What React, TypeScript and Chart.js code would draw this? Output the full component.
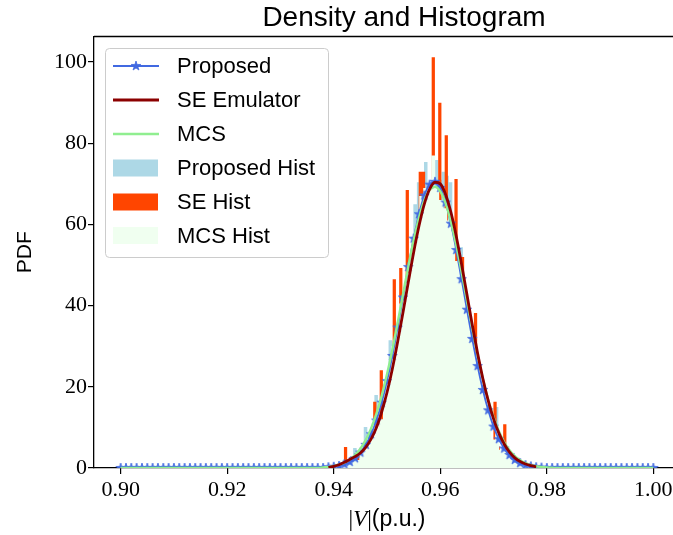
import { useEffect, useRef } from "react";
import { Chart, registerables } from "chart.js";

Chart.register(...registerables);

// Density curves sampled on a regular |V| grid (0.900 … 1.000, step 0.001)
const gridStart = 0.9;
const gridStep = 0.001;

const proposedPdf = [
  0, 0, 0, 0, 0, 0, 0, 0, 0, 0,
  0, 0, 0, 0, 0, 0, 0, 0, 0, 0,
  0, 0, 0, 0, 0, 0, 0, 0, 0, 0,
  0, 0, 0, 0, 0, 0, 0, 0, 0, 0.2,
  0.3, 0.5, 0.9, 1.5, 2.4, 3.8, 5.7, 8.3, 11.7, 16.1,
  21.4, 27.6, 34.6, 42.0, 49.5, 56.5, 62.5, 67.1, 69.8, 70.5,
  69.0, 65.4, 60.2, 53.7, 46.5, 39.0, 31.8, 25.1, 19.2, 14.2,
  10.2, 7.1, 4.8, 3.2, 2.0, 1.2, 0.7, 0.4, 0.2, 0.1,
  0, 0, 0, 0, 0, 0, 0, 0, 0, 0,
  0, 0, 0, 0, 0, 0, 0, 0, 0, 0,
  0,
];

const mcsPdf = [
  0, 0, 0, 0, 0, 0, 0, 0, 0, 0,
  0, 0, 0, 0, 0, 0, 0, 0, 0, 0,
  0, 0, 0, 0, 0, 0, 0, 0, 0, 0,
  0, 0, 0, 0, 0, 0, 0, 0, 0.16, 0.28,
  0.49, 0.81, 1.31, 2.07, 3.17, 4.74, 6.87, 9.69, 13.31, 17.77,
  23.07, 29.13, 35.77, 42.73, 49.65, 56.11, 61.66, 65.91, 68.52, 69.29,
  68.14, 65.18, 60.64, 54.87, 48.29, 41.33, 34.41, 27.86, 21.94, 16.8,
  12.52, 9.07, 6.39, 4.38, 2.92, 1.89, 1.19, 0.73, 0.44, 0.25,
  0.14, 0.07, 0, 0, 0, 0, 0, 0, 0, 0,
  0, 0, 0, 0, 0, 0, 0, 0, 0, 0,
  0,
];

// SE emulator density only spans its own sample range (0.939 … 0.978)
const seStart = 0.939;
const sePdf = [
  0.15, 0.4, 0.8, 1.4, 2.1, 2.8, 3.7, 5.1, 7.1, 9.9,
  13.8, 18.6, 24.4, 31.1, 38.3, 45.8, 53.1, 59.6, 65.0, 68.7,
  70.4, 70.0, 67.4, 63.0, 57.1, 50.2, 42.8, 35.3, 28.3, 22.0,
  16.6, 12.1, 8.6, 5.9, 3.9, 2.5, 1.6, 1.0, 0.6, 0.3,
];

// Histograms: first bin edge, bin width, bin heights (density)
const proposedHistStart = 0.94098;
const proposedHistWidth = 0.000665;
const proposedHist = [
  1.2, 2.0, 1.0, 1.4, 4.9, 1.8, 3.0, 10.1, 5.8, 7.4,
  18.0, 9.0, 11.0, 17.0, 31.5, 24.0, 27.0, 31.0, 35.0, 39.0,
  43.0, 65.0, 70.4, 58.0, 75.4, 58.0, 60.0, 75.9, 71.0, 73.0,
  72.0, 70.4, 46.0, 42.0, 54.4, 34.0, 30.0, 34.0, 22.0, 19.0,
  16.0, 13.0, 6.5, 6.5, 15.0, 4.0, 4.0, 3.0, 2.3, 1.7,
  1.2, 0.9, 0.6, 0.4,
];

const seHistStart = 0.940085;
const seHistWidth = 0.00061;
const seHist = [
  0.2, 0.3, 0.4, 5.2, 0.7, 1.0, 1.3, 3.4, 2.5, 3.4,
  4.3, 5.5, 16.3, 8.0, 24.1, 11.0, 13.0, 16.0, 46.5, 20.0,
  49.3, 26.0, 68.5, 32.0, 34.0, 36.0, 73.0, 73.0, 40.0, 41.0,
  101.2, 42.0, 90.0, 41.0, 82.0, 38.0, 36.0, 71.2, 32.0, 52.0,
  26.0, 24.0, 21.0, 38.2, 16.0, 14.0, 12.0, 10.0, 5.0, 16.3,
  5.3, 3.5, 10.8, 2.6, 2.0, 1.5, 1.2, 0.9, 0.6, 0.5,
  0.3,
];

const mcsHistStart = 0.9403;
const mcsHistWidth = 0.00075;
const mcsHist = [
  0.7, 1.0, 1.4, 2.0, 2.8, 2.0, 4.0, 6.7, 8.7, 11.1,
  10.0, 12.0, 21.3, 24.0, 30.0, 32.0, 40.5, 45.7, 48.0, 55.6,
  60.0, 67.0, 69.0, 68.4, 77.0, 69.0, 66.0, 64.0, 61.0, 58.3,
  51.0, 46.0, 43.6, 38.4, 31.0, 28.3, 23.8, 19.7, 16.0, 7.0,
  10.1, 4.5, 4.5, 4.5, 3.3, 2.4, 1.8, 1.2, 0.9, 0.6,
];

const xTicks = [0.9, 0.92, 0.94, 0.96, 0.98, 1.0];
const yTicks = [0, 20, 40, 60, 80, 100];

const SANS = '"Liberation Sans", Arial, sans-serif';
const SERIF = '"Liberation Serif", "Times New Roman", serif';

function curvePoints(start: number, step: number, values: number[]) {
  return values.map((v, i) => ({ x: start + i * step, y: v }));
}

// Outline of a histogram as step points: each bin holds its height until the next edge
function histPoints(start: number, width: number, heights: number[]) {
  const pts = heights.map((h, i) => ({ x: start + i * width, y: h }));
  pts.push({ x: start + heights.length * width, y: heights[heights.length - 1] });
  return pts;
}

function starMarker(color: string, r: number) {
  const size = Math.ceil(r * 2 + 2);
  const c = document.createElement("canvas");
  c.width = size;
  c.height = size;
  const g = c.getContext("2d")!;
  g.translate(size / 2, size / 2);
  g.beginPath();
  for (let i = 0; i < 10; i++) {
    const rad = i % 2 === 0 ? r : r * 0.382;
    const a = -Math.PI / 2 + (i * Math.PI) / 5;
    const px = rad * Math.cos(a);
    const py = rad * Math.sin(a);
    if (i === 0) g.moveTo(px, py);
    else g.lineTo(px, py);
  }
  g.closePath();
  g.fillStyle = color;
  g.fill();
  g.strokeStyle = color;
  g.lineWidth = 0.8;
  g.stroke();
  return c;
}

const frameAndLabels = {
  id: "frameAndLabels",
  afterDraw(chart: any) {
    const { ctx, chartArea } = chart;
    const { left, right, top, bottom } = chartArea;
    ctx.save();

    // top and right spines
    ctx.strokeStyle = "#000";
    ctx.lineWidth = 1.3;
    ctx.beginPath();
    ctx.moveTo(left, top);
    ctx.lineTo(right, top);
    ctx.lineTo(right, bottom);
    ctx.stroke();

    const cx = (left + right) / 2;
    ctx.fillStyle = "#000";

    // title
    ctx.font = `28px ${SANS}`;
    ctx.textAlign = "center";
    ctx.textBaseline = "alphabetic";
    ctx.fillText("Density and Histogram", 404, 26);

    // y label
    ctx.save();
    ctx.translate(25, (top + bottom) / 2);
    ctx.rotate(-Math.PI / 2);
    ctx.font = `21px ${SANS}`;
    ctx.textAlign = "center";
    ctx.textBaseline = "middle";
    ctx.fillText("PDF", 0, 0);
    ctx.restore();

    // x label: |V| in math style followed by the unit
    const parts = [
      { t: "|", f: `23px ${SERIF}` },
      { t: "V", f: `italic 23px ${SERIF}` },
      { t: "|", f: `23px ${SERIF}` },
      { t: "(p.u.)", f: `23px ${SANS}` },
    ];
    let total = 0;
    const widths = parts.map((p) => {
      ctx.font = p.f;
      const w = ctx.measureText(p.t).width;
      total += w;
      return w;
    });
    let x = cx - total / 2;
    ctx.textAlign = "left";
    ctx.textBaseline = "alphabetic";
    parts.forEach((p, i) => {
      ctx.font = p.f;
      ctx.fillText(p.t, x, 526);
      x += widths[i];
    });

    // legend box
    const bx = 105.5, by = 48.5, bw = 223, bh = 209, br = 4;
    ctx.beginPath();
    ctx.moveTo(bx + br, by);
    ctx.lineTo(bx + bw - br, by);
    ctx.quadraticCurveTo(bx + bw, by, bx + bw, by + br);
    ctx.lineTo(bx + bw, by + bh - br);
    ctx.quadraticCurveTo(bx + bw, by + bh, bx + bw - br, by + bh);
    ctx.lineTo(bx + br, by + bh);
    ctx.quadraticCurveTo(bx, by + bh, bx, by + bh - br);
    ctx.lineTo(bx, by + br);
    ctx.quadraticCurveTo(bx, by, bx + br, by);
    ctx.closePath();
    ctx.fillStyle = "rgba(255,255,255,0.8)";
    ctx.fill();
    ctx.strokeStyle = "#cccccc";
    ctx.lineWidth = 1;
    ctx.stroke();

    const rowY = [66, 100, 134, 168, 202, 235.5];
    chart.data.datasets.forEach((ds: any, i: number) => {
      const y = rowY[i];
      if (ds.fill) {
        ctx.fillStyle = ds.backgroundColor;
        ctx.fillRect(113, y - 8.5, 45, 17);
      } else {
        ctx.strokeStyle = ds.borderColor;
        ctx.lineWidth = ds.borderWidth;
        ctx.beginPath();
        ctx.moveTo(113, y);
        ctx.lineTo(159, y);
        ctx.stroke();
        if (ds.pointStyle instanceof HTMLCanvasElement) {
          const m = ds.pointStyle as HTMLCanvasElement;
          ctx.drawImage(m, 136 - m.width / 2, y - m.height / 2);
        }
      }
      ctx.fillStyle = "#000";
      ctx.font = `22px ${SANS}`;
      ctx.textAlign = "left";
      ctx.textBaseline = "middle";
      ctx.fillText(ds.label, 177, y + 1);
    });

    ctx.restore();
  },
};

export default function App() {
  const ref = useRef<HTMLCanvasElement>(null);

  useEffect(() => {
    document.body.style.margin = "0";
    const star = starMarker("#4169E1", 5);

    const histDataset = (label: string, color: string, pts: any[], order: number) => ({
      label,
      data: pts,
      stepped: true,
      fill: "origin",
      backgroundColor: color,
      borderColor: "rgba(0,0,0,0)",
      borderWidth: 0,
      pointRadius: 0,
      order,
    });

    const chart = new Chart(ref.current!, {
      type: "line",
      data: {
        datasets: [
          {
            label: "Proposed",
            data: curvePoints(gridStart, gridStep, proposedPdf),
            borderColor: "#4169E1",
            backgroundColor: "#4169E1",
            borderWidth: 1.8,
            pointStyle: star as any,
            pointRadius: 5,
            cubicInterpolationMode: "monotone",
            fill: false,
            order: 2,
          },
          {
            label: "SE Emulator",
            data: curvePoints(seStart, gridStep, sePdf),
            borderColor: "#8B0000",
            borderWidth: 2.8,
            pointRadius: 0,
            cubicInterpolationMode: "monotone",
            fill: false,
            order: 0,
          },
          {
            label: "MCS",
            data: curvePoints(gridStart, gridStep, mcsPdf),
            borderColor: "#90EE90",
            borderWidth: 2.4,
            pointRadius: 0,
            cubicInterpolationMode: "monotone",
            fill: false,
            order: 1,
          },
          histDataset("Proposed Hist", "#ADD8E6", histPoints(proposedHistStart, proposedHistWidth, proposedHist), 5),
          histDataset("SE Hist", "#FF4500", histPoints(seHistStart, seHistWidth, seHist), 4),
          histDataset("MCS Hist", "#F0FFF0", histPoints(mcsHistStart, mcsHistWidth, mcsHist), 3),
        ] as any,
      },
      options: {
        responsive: false,
        animation: false,
        devicePixelRatio: 1,
        events: [],
        layout: { padding: { left: 0, right: 20, top: 36.5, bottom: 0 } },
        plugins: {
          legend: { display: false },
          tooltip: { enabled: false },
          title: { display: false },
        },
        scales: {
          x: {
            type: "linear",
            min: 0.895,
            max: 1.005,
            afterBuildTicks: (s: any) => {
              s.ticks = xTicks.map((v) => ({ value: v }));
            },
            afterFit: (s: any) => {
              s.height = 67;
            },
            ticks: {
              callback: (v: any) => Number(v).toFixed(2),
              font: { family: SERIF, size: 22 },
              color: "#000",
              maxRotation: 0,
              autoSkip: false,
              padding: 3,
            },
            grid: {
              display: true,
              drawOnChartArea: false,
              drawTicks: true,
              tickLength: 6,
              color: "#000",
              lineWidth: 1.2,
            },
            border: { display: true, color: "#000", width: 1.3 },
          },
          y: {
            type: "linear",
            min: 0,
            max: 106.3,
            afterBuildTicks: (s: any) => {
              s.ticks = yTicks.map((v) => ({ value: v }));
            },
            afterFit: (s: any) => {
              s.width = 94;
            },
            ticks: {
              callback: (v: any) => String(v),
              font: { family: SERIF, size: 22 },
              color: "#000",
              padding: 1,
            },
            grid: {
              display: true,
              drawOnChartArea: false,
              drawTicks: true,
              tickLength: 6,
              color: "#000",
              lineWidth: 1.2,
            },
            border: { display: true, color: "#000", width: 1.3 },
          },
        },
      } as any,
      plugins: [frameAndLabels],
    });

    return () => chart.destroy();
  }, []);

  return (
    <div style={{ width: 673, height: 535, overflow: "hidden", background: "#fff" }}>
      <canvas ref={ref} width={700} height={535} style={{ display: "block", width: 700, height: 535 }} />
    </div>
  );
}
